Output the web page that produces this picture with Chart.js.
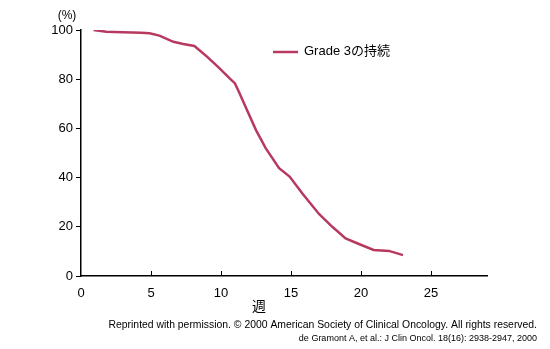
<!DOCTYPE html>
<html>
<head>
<meta charset="utf-8">
<script src="https://cdn.jsdelivr.net/npm/chart.js@4.4.0/dist/chart.umd.min.js"></script>
<style>
  html, body { margin: 0; padding: 0; background: #fff; }
  #wrap { width: 550px; height: 349px; }
</style>
</head>
<body>
<div id="wrap"><canvas id="km_chart" width="550" height="349"></canvas></div>
<script>
var weeks = [0.9, 1.8, 3.0, 4.3, 4.9, 5.6, 6.6, 7.3, 8.1, 9.0, 9.9, 10.6, 11.0, 11.3, 11.8, 12.5, 13.2, 14.15, 14.9, 15.8, 17.0, 17.95, 18.9, 19.85, 20.9, 22.0, 23.0];
var percent = [100, 99.3, 99.1, 98.9, 98.7, 97.7, 95.2, 94.3, 93.5, 89.2, 84.4, 80.4, 78.3, 74.6, 68.2, 59.3, 51.9, 43.8, 40.4, 33.6, 25.2, 20.0, 15.3, 13.0, 10.6, 10.2, 8.5];
var xTicks = [0, 5, 10, 15, 20, 25];
var yTicks = [0, 20, 40, 60, 80, 100];
var seriesLabel = "Grade 3の持続";
var xTitle = "週";
var yUnit = "(%)";
var credit1 = "Reprinted with permission. © 2000 American Society of Clinical Oncology. All rights reserved.";
var credit2 = "de Gramont A, et al.: J Clin Oncol. 18(16): 2938-2947, 2000";

var lineColor = '#b8395f';
var fontFamily = '"Liberation Sans", Arial, "Noto Sans CJK JP", sans-serif';

var points = [];
for (var i in weeks) {
    points.push({ x: weeks[i], y: percent[i] });
}

// extra bits: inward x ticks, legend, unit, axis title, credits
var extras = {
    id: 'extras',
    afterDraw: function (chart) {
        var ctx = chart.ctx;
        var xs = chart.scales.x;
        var area = chart.chartArea;
        ctx.save();
        ctx.strokeStyle = '#000';
        ctx.lineWidth = 1;
        xTicks.forEach(function (t) {
            if (t === 0) return;
            var px = Math.round(xs.getPixelForValue(t)) + 0.5;
            ctx.beginPath();
            ctx.moveTo(px, area.bottom);
            ctx.lineTo(px, area.bottom - 5);
            ctx.stroke();
        });

        // legend
        ctx.strokeStyle = lineColor;
        ctx.lineWidth = 2.5;
        ctx.beginPath();
        ctx.moveTo(273, 52);
        ctx.lineTo(298, 52);
        ctx.stroke();
        ctx.fillStyle = '#000';
        ctx.font = '13px ' + fontFamily;
        ctx.textBaseline = 'middle';
        ctx.textAlign = 'left';
        ctx.fillText(chart.data.datasets[0].label, 304, 51);

        // unit
        ctx.font = '12px ' + fontFamily;
        ctx.textAlign = 'center';
        ctx.fillText(yUnit, 67, 16);

        // x title
        ctx.font = '14px ' + fontFamily;
        ctx.fillText(xTitle, 259, 307);

        // credits
        ctx.textAlign = 'right';
        ctx.font = '10.4px ' + fontFamily;
        ctx.fillText(credit1, 537, 325);
        ctx.font = '9px ' + fontFamily;
        ctx.fillText(credit2, 537, 339);
        ctx.restore();
    }
};

var ctx = document.getElementById('km_chart');

var lineGraph = new Chart(ctx, {
    type: 'line',
    data: {
        datasets: [
            {
                label: seriesLabel,
                data: points,
                borderColor: lineColor,
                backgroundColor: lineColor,
                borderWidth: 2.5,
                pointRadius: 0,
                tension: 0,
                fill: false
            }
        ]
    },
    options: {
        responsive: false,
        animation: false,
        layout: { padding: { left: 0, right: 63, top: 30, bottom: 0 } },
        plugins: {
            legend: { display: false },
            tooltip: { enabled: false }
        },
        scales: {
            x: {
                type: 'linear',
                min: 0,
                max: 29,
                afterFit: function (scale) { scale.height = 73; },
                afterBuildTicks: function (scale) {
                    scale.ticks = xTicks.map(function (v) { return { value: v }; });
                },
                grid: { display: false },
                border: { display: true, color: '#000', width: 1.5 },
                ticks: {
                    color: '#000',
                    padding: 2,
                    maxRotation: 0,
                    font: { family: fontFamily, size: 13 }
                }
            },
            y: {
                type: 'linear',
                min: 0,
                max: 100,
                afterFit: function (scale) { scale.width = 81; },
                afterBuildTicks: function (scale) {
                    scale.ticks = yTicks.map(function (v) { return { value: v }; });
                },
                grid: { drawOnChartArea: false, drawTicks: true, tickLength: 5, color: '#000' },
                border: { display: true, color: '#000', width: 1.5 },
                ticks: {
                    color: '#000',
                    padding: 3,
                    font: { family: fontFamily, size: 13 }
                }
            }
        }
    },
    plugins: [extras]
});
</script>
</body>
</html>
